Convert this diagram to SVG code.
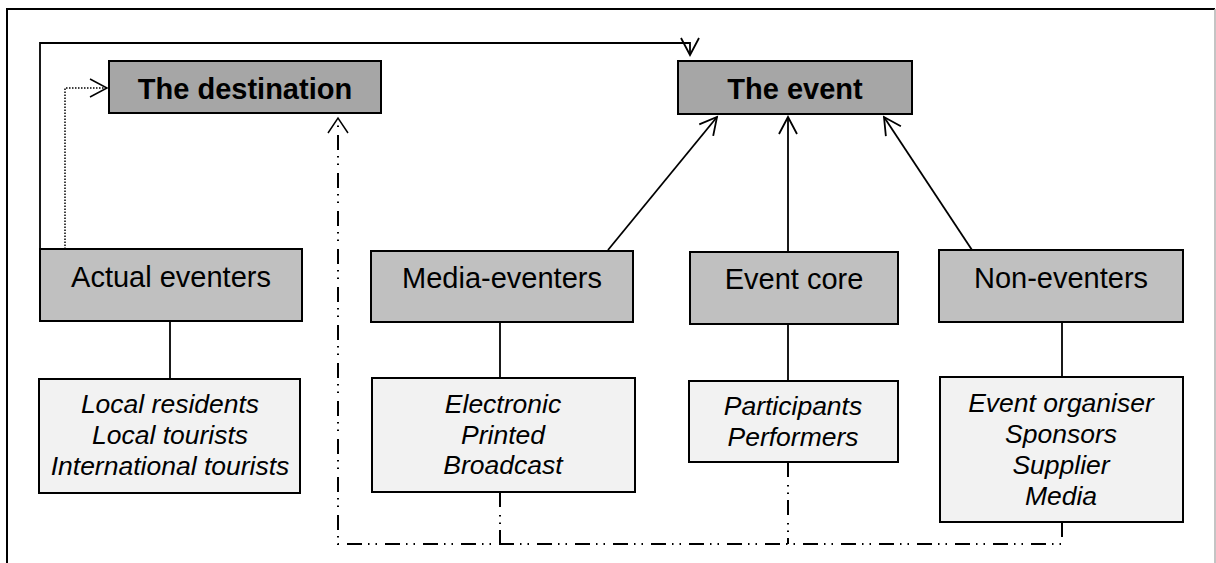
<svg xmlns="http://www.w3.org/2000/svg" width="1216" height="563" viewBox="0 0 1216 563">
  <style>
    .top { fill: #a6a6a6; stroke: #000; stroke-width: 2; }
    .head { fill: #c0c0c0; stroke: #000; stroke-width: 2; }
    .sub { fill: #f2f2f2; stroke: #000; stroke-width: 2; }
    .tb { font-family: "Liberation Sans", Arial, sans-serif; font-weight: bold; font-size: 29px; text-anchor: middle; fill: #000; }
    .th { font-family: "Liberation Sans", Arial, sans-serif; font-size: 29px; text-anchor: middle; fill: #000; }
    .ti { font-family: "Liberation Sans", Arial, sans-serif; font-style: italic; font-size: 26.5px; text-anchor: middle; fill: #000; }
    .ln { fill: none; stroke: #000; stroke-width: 1.8; }
    .dot { fill: none; stroke: #000; stroke-width: 1.5; stroke-dasharray: 1.5 1.5; }
    .dd { fill: none; stroke: #000; stroke-width: 2; stroke-dasharray: 15 8 1.5 6 1.5 6; }
  </style>
  <defs>
    <marker id="open" markerUnits="userSpaceOnUse" markerWidth="40" markerHeight="40" refX="0" refY="0" viewBox="-20 -20 40 40" orient="auto" overflow="visible">
      <path d="M-17,-9 L0,0 L-17,9" fill="none" stroke="#000" stroke-width="1.8"/>
    </marker>
  </defs>

  <rect width="1216" height="563" fill="#fff"/>

  <!-- outer frame -->
  <path d="M7,563 V9 H1215" fill="none" stroke="#000" stroke-width="2"/>
  <path d="M1215,9 V563" fill="none" stroke="#b0b0b0" stroke-width="1.5"/>

  <g id="connectors">
    <!-- actual eventers to the event (top loop) -->
    <path class="ln" d="M40,249 V43 H690 V55" marker-end="url(#open)"/>
    <!-- actual eventers to the destination (dotted) -->
    <path class="dot" d="M65,249 V88 H106"/>
    <path d="M90,79 L107,88 L90,97" fill="none" stroke="#000" stroke-width="1.5"/>
    <!-- arrows into the event -->
    <path class="ln" d="M608,250 L717,117" marker-end="url(#open)"/>
    <path class="ln" d="M788,252 V117" marker-end="url(#open)"/>
    <path class="ln" d="M972,250 L884,117" marker-end="url(#open)"/>
    <!-- header to detail boxes -->
    <path class="ln" d="M170,321 V379"/>
    <path class="ln" d="M500,322 V378"/>
    <path class="ln" d="M788,324 V381"/>
    <path class="ln" d="M1062,322 V377"/>
    <!-- dash-dot feedback to the destination -->
    <path class="dd" d="M1062,522 V544 H338 V120"/>
    <path d="M328,133 L338,118 L348,133" fill="none" stroke="#000" stroke-width="1.5"/>
    <path class="dd" d="M500,492 V544"/>
    <path class="dd" d="M788,462 V544"/>
  </g>

  <g id="destination">
    <rect class="top" x="109" y="61" width="272" height="52"/>
    <text class="tb" x="245" y="99">The destination</text>
  </g>
  <g id="event">
    <rect class="top" x="678" y="61" width="234" height="53"/>
    <text class="tb" x="795" y="99">The event</text>
  </g>

  <g id="actual-eventers">
    <rect class="head" x="40" y="249" width="262" height="72"/>
    <text class="th" x="171" y="287">Actual eventers</text>
  </g>
  <g id="media-eventers">
    <rect class="head" x="371" y="251" width="262" height="71"/>
    <text class="th" x="502" y="288">Media-eventers</text>
  </g>
  <g id="event-core">
    <rect class="head" x="690" y="252" width="208" height="72"/>
    <text class="th" x="794" y="289">Event core</text>
  </g>
  <g id="non-eventers">
    <rect class="head" x="939" y="250" width="244" height="72"/>
    <text class="th" x="1061" y="288">Non-eventers</text>
  </g>

  <g id="actual-detail">
    <rect class="sub" x="39" y="379" width="261" height="114"/>
    <text class="ti" x="170" y="413">Local residents</text>
    <text class="ti" x="170" y="444">Local tourists</text>
    <text class="ti" x="170" y="475">International tourists</text>
  </g>
  <g id="media-detail">
    <rect class="sub" x="372" y="378" width="263" height="114"/>
    <text class="ti" x="503" y="413">Electronic</text>
    <text class="ti" x="503" y="444">Printed</text>
    <text class="ti" x="503" y="474">Broadcast</text>
  </g>
  <g id="core-detail">
    <rect class="sub" x="689" y="381" width="209" height="81"/>
    <text class="ti" x="793" y="415">Participants</text>
    <text class="ti" x="793" y="446">Performers</text>
  </g>
  <g id="non-detail">
    <rect class="sub" x="940" y="377" width="243" height="145"/>
    <text class="ti" x="1061" y="412">Event organiser</text>
    <text class="ti" x="1061" y="443">Sponsors</text>
    <text class="ti" x="1061" y="474">Supplier</text>
    <text class="ti" x="1061" y="505">Media</text>
  </g>
</svg>
